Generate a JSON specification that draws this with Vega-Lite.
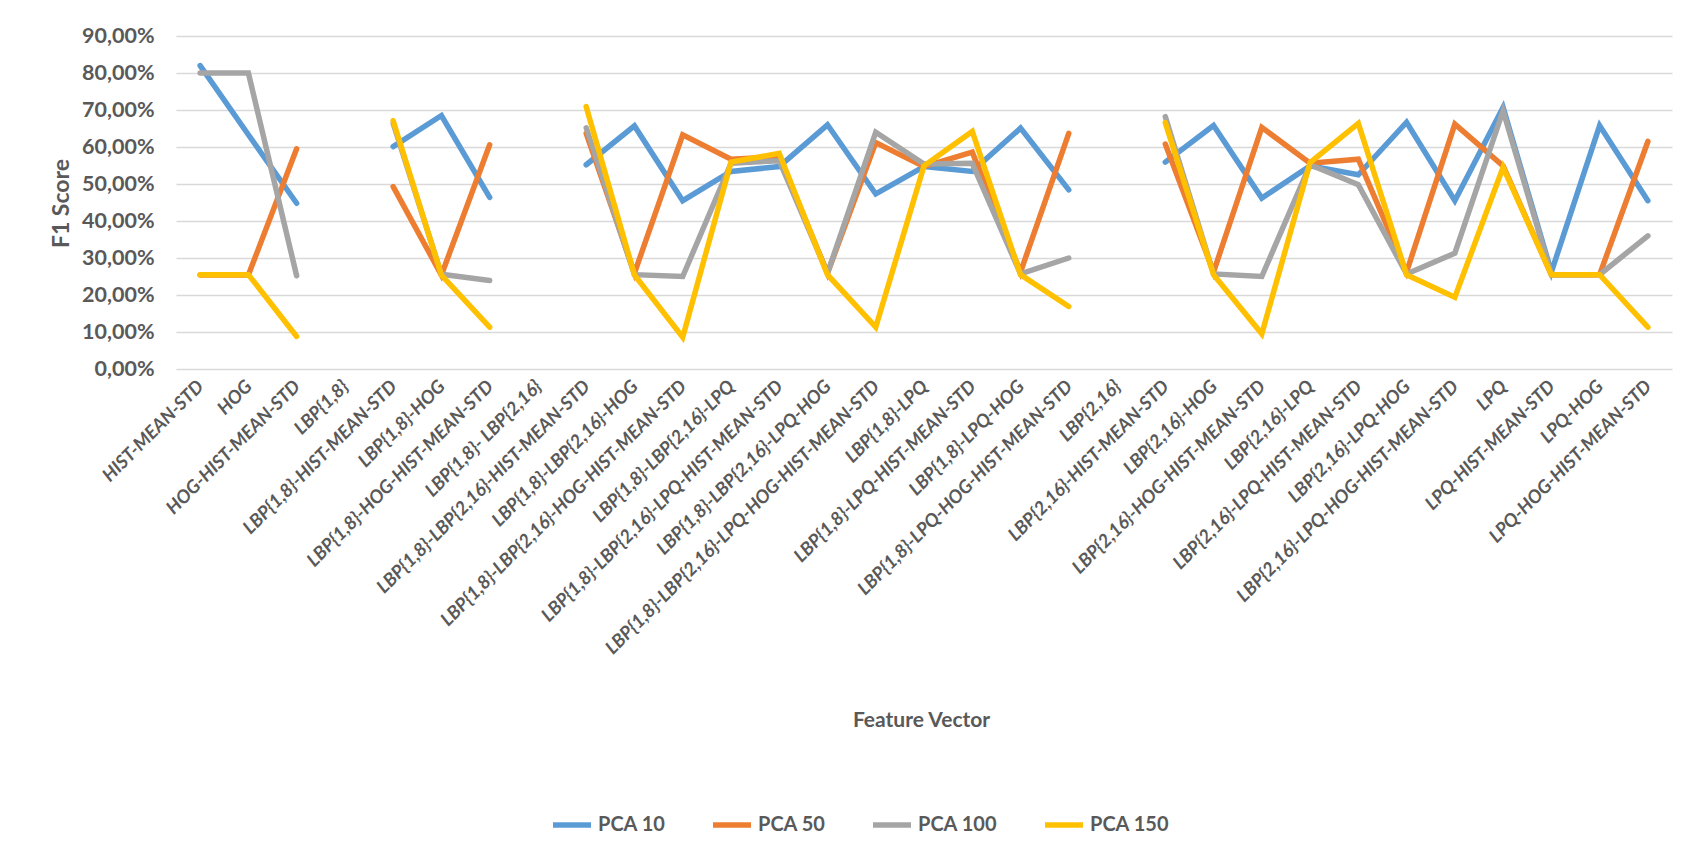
{
  "$schema": "https://vega.github.io/schema/vega-lite/v6.json",
  "width": 1496,
  "height": 333,
  "autosize": {"type": "none"},
  "padding": {"left": 176, "top": 36, "right": 18, "bottom": 491},
  "background": "white",
  "config": {
    "locale": {"number": {"decimal": ",", "thousands": ".", "grouping": [3], "currency": ["", " €"]}},
    "font": "Lato",
    "view": {"stroke": null}
  },
  "data": {"values": [
    {"f": "HIST-MEAN-STD", "PCA 10": 0.82, "PCA 50": 0.254, "PCA 100": 0.80, "PCA 150": 0.255},
    {"f": "HOG", "PCA 10": 0.633, "PCA 50": 0.254, "PCA 100": 0.80, "PCA 150": 0.255},
    {"f": "HOG-HIST-MEAN-STD", "PCA 10": 0.448, "PCA 50": 0.595, "PCA 100": 0.252, "PCA 150": 0.088},
    {"f": "LBP{1,8}", "PCA 10": null, "PCA 50": null, "PCA 100": null, "PCA 150": null},
    {"f": "LBP{1,8}-HIST-MEAN-STD", "PCA 10": 0.601, "PCA 50": 0.493, "PCA 100": 0.664, "PCA 150": 0.671},
    {"f": "LBP{1,8}-HOG", "PCA 10": 0.685, "PCA 50": 0.254, "PCA 100": 0.256, "PCA 150": 0.254},
    {"f": "LBP{1,8}-HOG-HIST-MEAN-STD", "PCA 10": 0.464, "PCA 50": 0.606, "PCA 100": 0.239, "PCA 150": 0.113},
    {"f": "LBP{1,8}- LBP{2,16}", "PCA 10": null, "PCA 50": null, "PCA 100": null, "PCA 150": null},
    {"f": "LBP{1,8}-LBP{2,16}-HIST-MEAN-STD", "PCA 10": 0.552, "PCA 50": 0.637, "PCA 100": 0.652, "PCA 150": 0.709},
    {"f": "LBP{1,8}-LBP{2,16}-HOG", "PCA 10": 0.657, "PCA 50": 0.259, "PCA 100": 0.255, "PCA 150": 0.254},
    {"f": "LBP{1,8}-LBP{2,16}-HOG-HIST-MEAN-STD", "PCA 10": 0.455, "PCA 50": 0.633, "PCA 100": 0.250, "PCA 150": 0.086},
    {"f": "LBP{1,8}-LBP{2,16}-LPQ", "PCA 10": 0.534, "PCA 50": 0.567, "PCA 100": 0.556, "PCA 150": 0.559},
    {"f": "LBP{1,8}-LBP{2,16}-LPQ-HIST-MEAN-STD", "PCA 10": 0.547, "PCA 50": 0.574, "PCA 100": 0.563, "PCA 150": 0.583},
    {"f": "LBP{1,8}-LBP{2,16}-LPQ-HOG", "PCA 10": 0.660, "PCA 50": 0.259, "PCA 100": 0.259, "PCA 150": 0.255},
    {"f": "LBP{1,8}-LBP{2,16}-LPQ-HOG-HIST-MEAN-STD", "PCA 10": 0.473, "PCA 50": 0.612, "PCA 100": 0.640, "PCA 150": 0.113},
    {"f": "LBP{1,8}-LPQ", "PCA 10": 0.547, "PCA 50": 0.547, "PCA 100": 0.554, "PCA 150": 0.549},
    {"f": "LBP{1,8}-LPQ-HIST-MEAN-STD", "PCA 10": 0.534, "PCA 50": 0.586, "PCA 100": 0.556, "PCA 150": 0.642},
    {"f": "LBP{1,8}-LPQ-HOG", "PCA 10": 0.651, "PCA 50": 0.262, "PCA 100": 0.257, "PCA 150": 0.255},
    {"f": "LBP{1,8}-LPQ-HOG-HIST-MEAN-STD", "PCA 10": 0.484, "PCA 50": 0.637, "PCA 100": 0.300, "PCA 150": 0.169},
    {"f": "LBP{2,16}", "PCA 10": null, "PCA 50": null, "PCA 100": null, "PCA 150": null},
    {"f": "LBP{2,16}-HIST-MEAN-STD", "PCA 10": 0.559, "PCA 50": 0.608, "PCA 100": 0.682, "PCA 150": 0.666},
    {"f": "LBP{2,16}-HOG", "PCA 10": 0.658, "PCA 50": 0.262, "PCA 100": 0.257, "PCA 150": 0.255},
    {"f": "LBP{2,16}-HOG-HIST-MEAN-STD", "PCA 10": 0.462, "PCA 50": 0.653, "PCA 100": 0.250, "PCA 150": 0.095},
    {"f": "LBP{2,16}-LPQ", "PCA 10": 0.549, "PCA 50": 0.556, "PCA 100": 0.552, "PCA 150": 0.558},
    {"f": "LBP{2,16}-LPQ-HIST-MEAN-STD", "PCA 10": 0.525, "PCA 50": 0.567, "PCA 100": 0.498, "PCA 150": 0.664},
    {"f": "LBP{2,16}-LPQ-HOG", "PCA 10": 0.667, "PCA 50": 0.262, "PCA 100": 0.257, "PCA 150": 0.255},
    {"f": "LBP{2,16}-LPQ-HOG-HIST-MEAN-STD", "PCA 10": 0.455, "PCA 50": 0.662, "PCA 100": 0.313, "PCA 150": 0.194},
    {"f": "LPQ", "PCA 10": 0.707, "PCA 50": 0.549, "PCA 100": 0.698, "PCA 150": 0.545},
    {"f": "LPQ-HIST-MEAN-STD", "PCA 10": 0.262, "PCA 50": 0.255, "PCA 100": 0.255, "PCA 150": 0.255},
    {"f": "LPQ-HOG", "PCA 10": 0.658, "PCA 50": 0.255, "PCA 100": 0.255, "PCA 150": 0.255},
    {"f": "LPQ-HOG-HIST-MEAN-STD", "PCA 10": 0.455, "PCA 50": 0.615, "PCA 100": 0.360, "PCA 150": 0.113}
  ]},
  "transform": [{"fold": ["PCA 10", "PCA 50", "PCA 100", "PCA 150"], "as": ["series", "value"]}],
  "mark": {"type": "line", "strokeWidth": 5.5, "strokeCap": "round", "invalid": "break-paths-show-domains"},
  "encoding": {
    "x": {
      "field": "f", "type": "nominal", "sort": null,
      "scale": {"padding": 0.5},
      "axis": {
        "labelAngle": -45, "labelAlign": "right", "labelBaseline": "middle",
        "labelFontStyle": "italic", "labelFontWeight": "bold", "labelFontSize": 18.5,
        "labelColor": "#595959", "labelLimit": 1000, "labelPadding": 14,
        "domain": false, "ticks": false, "grid": false,
        "title": "Feature Vector", "titleFontSize": 21, "titleFontWeight": "bold", "titleColor": "#595959",
        "titleX": 745, "titleY": 351, "titleAnchor": "middle", "titleAlign": "center", "titleBaseline": "middle"
      }
    },
    "y": {
      "field": "value", "type": "quantitative",
      "scale": {"domain": [0, 0.9]},
      "axis": {
        "values": [0, 0.1, 0.2, 0.3, 0.4, 0.5, 0.6, 0.7, 0.8, 0.9],
        "format": ".2%",
        "labelFontWeight": "bold", "labelFontSize": 21.5, "labelColor": "#595959", "labelPadding": 22,
        "domain": false, "ticks": false,
        "gridColor": "#D9D9D9", "gridWidth": 1.5,
        "title": "F1 Score", "titleFontSize": 23, "titleFontWeight": "bold", "titleColor": "#595959",
        "titleX": -115, "titleY": 167, "titleAngle": -90, "titleAlign": "center", "titleBaseline": "middle"
      }
    },
    "color": {
      "field": "series", "type": "nominal",
      "scale": {"domain": ["PCA 10", "PCA 50", "PCA 100", "PCA 150"], "range": ["#5B9BD5", "#ED7D31", "#A5A5A5", "#FFC000"]},
      "legend": {
        "title": null, "orient": "none", "direction": "horizontal",
        "legendX": 374, "legendY": 767,
        "symbolType": "stroke", "symbolSize": 1444, "symbolStrokeWidth": 5.5,
        "labelFontSize": 20, "labelFontWeight": "bold", "labelColor": "#595959",
        "labelOffset": 4, "columnPadding": 36
      }
    }
  }
}
